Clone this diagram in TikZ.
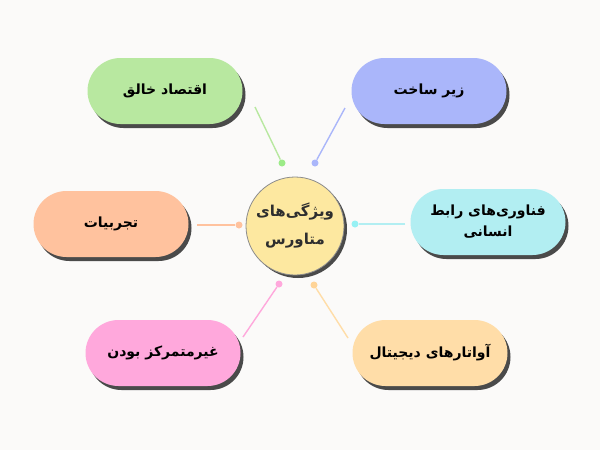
\documentclass[tikz,border=0pt]{standalone}
\usepackage{fontspec}
\usetikzlibrary{shapes.misc,shadows}
\TeXXeTstate=1
\newfontfamily\arabicfont[Script=Arabic,BoldFont={DejaVu Sans Bold}]{DejaVu Sans}
\definecolor{bgc}{HTML}{FBFAF9}
\definecolor{cgreen}{HTML}{B8E8A0}
\definecolor{cblue}{HTML}{AAB6FA}
\definecolor{ccyan}{HTML}{B2EEF2}
\definecolor{corange}{HTML}{FFC29E}
\definecolor{cpink}{HTML}{FFA8DC}
\definecolor{cavatar}{HTML}{FFDDA8}
\definecolor{ccenter}{HTML}{FDE8A0}
\definecolor{shad}{HTML}{4A4A4A}
\tikzset{
  pill/.style={rounded rectangle, minimum width=155pt, minimum height=66pt,
    inner sep=0pt, align=center,
    general shadow={shadow xshift=3pt, shadow yshift=-4pt, fill=shad},
    font=\arabicfont\bfseries\fontsize{14}{21}\selectfont, text=black},
  hub/.style={circle, minimum size=98pt, inner sep=0pt, align=center,
    draw=black!45, line width=0.8pt,
    general shadow={shadow xshift=3pt, shadow yshift=-3pt, fill=shad},
    font=\arabicfont\bfseries\fontsize{15}{28}\selectfont, text=black!82},
  dot/.style={circle, minimum size=7pt, inner sep=0pt},
  link/.style={line width=1.4pt}
}
\begin{document}
\begin{tikzpicture}[x=1pt,y=-1pt]
\fill[bgc] (0,0) rectangle (600,450);
\useasboundingbox (0,0) rectangle (600,450);

\node[hub, fill=ccenter] (hub) at (295,226) {\beginR ویژگی‌های\endR\\\beginR متاورس\endR};

\node[pill, fill=cgreen] (econ) at (165,91) {\beginR اقتصاد خالق\endR};
\node[pill, fill=cblue] (infra) at (429,91) {\beginR زیر ساخت\endR};
\node[pill, fill=ccyan] (hci) at (488,222) {\beginR فناوری‌های رابط\endR\\\beginR انسانی\endR};
\node[pill, fill=corange] (exp) at (111,224) {\beginR تجربیات\endR};
\node[pill, fill=cpink] (decen) at (163,353) {\beginR غیرمتمرکز بودن\endR};
\node[pill, fill=cavatar] (avat) at (430,353) {\beginR آواتارهای دیجیتال\endR};

\node[dot, fill=cgreen!85!green] (dg) at (282,163) {};
\node[dot, fill=cblue] (db) at (315,163) {};
\node[dot, fill=ccyan!85!cyan] (dc) at (355,224) {};
\node[dot, fill=corange] (do) at (239,225) {};
\node[dot, fill=cpink] (dp) at (279,284) {};
\node[dot, fill=cavatar!90!orange] (dy) at (314,285) {};

\coordinate (sg) at (255,107);
\coordinate (sb) at (345,108);
\coordinate (sc) at (405,224);
\coordinate (so) at (197,225);
\coordinate (sp) at (243,337);
\coordinate (sy) at (348,338);

\draw[link, cgreen] (sg) -- (dg);
\draw[link, cblue] (sb) -- (db);
\draw[link, ccyan] (sc) -- (dc);
\draw[link, corange] (so) -- (do);
\draw[link, cpink] (sp) -- (dp);
\draw[link, cavatar] (sy) -- (dy);
\end{tikzpicture}
\end{document}
